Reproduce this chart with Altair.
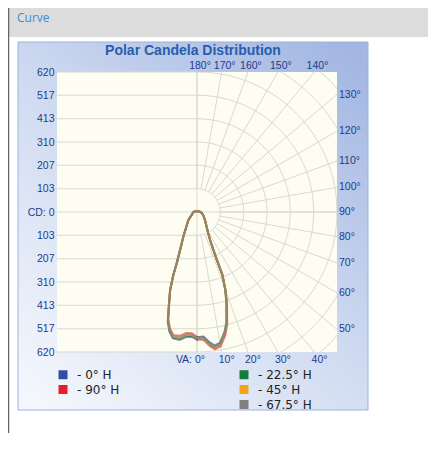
import altair as alt
import pandas as pd
import numpy as np

# ---------------- data ----------------
SERIES = ["0° H", "90° H", "22.5° H", "45° H", "67.5° H"]          # drawing order
LEGEND_ORDER = ["0° H", "90° H", " ", "22.5° H", "45° H", "67.5° H"]
LEGEND_COLORS = ["#2f4fa6", "#ec1c24", "rgba(0,0,0,0)", "#167a3c", "#f6a31b", "#808080"]

CD_TICKS = [620, 517, 413, 310, 207, 103]
EXTRA_RINGS = [723, 827]
SPOKES = list(range(0, 181, 10))
TOP_ANGLES = [180, 170, 160, 150, 140]
RIGHT_ANGLES = [130, 120, 110, 100, 90, 80, 70, 60, 50]
BOTTOM_ANGLES = [10, 20, 30, 40]

# left half (vertical angle, candela)
LEFT_GAMMA = [0, 2.5, 5, 7.7, 10.8, 13, 15, 17, 19, 20.6, 21.6, 24, 29, 38, 47, 60, 80, 95, 120, 180]
LEFT_CD = {
    "0° H":    [566, 553, 556, 572, 570, 544, 502, 426, 368, 298, 244, 184, 125, 73, 52, 28, 18, 13, 6, 3],
    "22.5° H": [562, 549, 551, 567, 566, 540, 498, 424, 366, 298, 244, 184, 125, 73, 52, 28, 18, 13, 6, 3],
    "45° H":   [559, 545, 547, 563, 562, 537, 495, 422, 365, 298, 244, 184, 125, 73, 52, 28, 18, 13, 6, 3],
    "67.5° H": [557, 543, 545, 561, 560, 535, 494, 421, 365, 298, 244, 184, 125, 73, 52, 28, 18, 13, 6, 3],
    "90° H":   [553, 537, 538, 553, 556, 531, 491, 419, 363, 298, 244, 184, 125, 73, 52, 28, 18, 13, 6, 3],
}
# right half
RIGHT_GAMMA = [0, 3, 5.5, 7.5, 10, 13, 15, 18, 20, 22, 22.5, 23.3, 25, 28, 33, 45, 60, 80, 95, 120, 180]
RIGHT_CD = {
    "0° H":    [554, 552, 579, 596, 587, 543, 503, 420, 364, 300, 232, 183, 137, 105, 78, 50, 33, 21, 13, 6, 3],
    "22.5° H": [557, 557, 585, 602, 592, 548, 507, 423, 366, 300, 232, 183, 137, 105, 78, 50, 33, 21, 13, 6, 3],
    "45° H":   [559, 561, 589, 606, 596, 551, 510, 425, 368, 300, 232, 183, 137, 105, 78, 50, 33, 21, 13, 6, 3],
    "67.5° H": [560, 562, 590, 607, 597, 553, 511, 426, 368, 300, 232, 183, 137, 105, 78, 50, 33, 21, 13, 6, 3],
    "90° H":   [564, 568, 597, 614, 604, 559, 517, 431, 372, 302, 232, 183, 137, 105, 78, 50, 33, 21, 13, 6, 3],
}

# ---------------- tables ----------------
def series_df(s):
    rows = []
    left = list(zip(LEFT_GAMMA, LEFT_CD[s]))[::-1]
    for i, (g, v) in enumerate(left):
        rows.append(dict(series=s, order=i, gamma=g, cd=v, side=-1))
    n = len(left)
    for j, (g, v) in enumerate(zip(RIGHT_GAMMA, RIGHT_CD[s])):
        rows.append(dict(series=s, order=n + j, gamma=g, cd=v, side=1))
    return pd.DataFrame(rows)

tick_vals = CD_TICKS + [0] + [-t for t in CD_TICKS]
hgrid_df = pd.DataFrame({"v": [t for t in CD_TICKS] + [-t for t in CD_TICKS]})
hgrid_df["x1"] = -CD_TICKS[0]
hgrid_df["x2"] = 0

cross_df = pd.DataFrame({"x1": [0, -CD_TICKS[0]], "x2": [0, CD_TICKS[0]],
                         "y1": [-CD_TICKS[0], 0], "y2": [CD_TICKS[0], 0]})

arc_rows = []
for r in CD_TICKS + EXTRA_RINGS:
    for a in range(0, 181, 2):
        arc_rows.append(dict(r=r, a=a, x=r * np.sin(np.radians(a)), y=-r * np.cos(np.radians(a))))
arc_df = pd.DataFrame(arc_rows)

spoke_df = pd.DataFrame({"g": SPOKES})
spoke_df["x1"] = CD_TICKS[-1] * np.sin(np.radians(spoke_df["g"]))
spoke_df["y1"] = -CD_TICKS[-1] * np.cos(np.radians(spoke_df["g"]))
spoke_df["x2"] = 1400 * np.sin(np.radians(spoke_df["g"]))
spoke_df["y2"] = -1400 * np.cos(np.radians(spoke_df["g"]))

R = CD_TICKS[0]
top_df = pd.DataFrame({"a": TOP_ANGLES})
top_df["label"] = top_df["a"].astype(str) + "°"
right_df = pd.DataFrame({"a": RIGHT_ANGLES})
right_df["label"] = right_df["a"].astype(str) + "°"
bot_df = pd.DataFrame({"a": BOTTOM_ANGLES})
bot_df["label"] = bot_df["a"].astype(str) + "°"
va_df = pd.DataFrame({"a": [0], "label": ["VA: 0°"]})

one = pd.DataFrame({"k": [0]})

LBL = "#1d3b8e"
GRID = "#d9d9d0"
FONT = "Liberation Sans"

XS = alt.Scale(domain=[-R, R], nice=False, zero=False)
YS = alt.Scale(domain=[-R, R], nice=False, zero=False)
YAX = alt.Axis(values=tick_vals, title=None, domain=False, ticks=False, grid=False,
               labelExpr="datum.value == 0 ? 'CD: 0' : format(abs(datum.value), 'd')",
               labelFont=FONT, labelFontSize=10.5, labelColor=LBL, labelPadding=3,
               labelFlush=False, labelOverlap=False, labelBound=False, zindex=2)

def XE(f):
    return alt.X(f, scale=XS, axis=None)

def YE(f):
    return alt.Y(f, scale=YS, axis=YAX)

# ---------------- background ----------------
header = alt.Chart(one).mark_rect(color="#dcdcdd").encode(
    x=alt.value(-49), x2=alt.value(371), y=alt.value(-64), y2=alt.value(-35))
border = alt.Chart(one).mark_rule(color="#666666", strokeWidth=1.5).encode(
    x=alt.value(-48.5), y=alt.value(-64), y2=alt.value(361))
curve_txt = alt.Chart(one).mark_text(text="Curve", align="left", baseline="middle",
                                     font="Open Sans", fontSize=12, color="#3a8dd6").encode(
    x=alt.value(-40), y=alt.value(-54))
grad = alt.Gradient(gradient="linear",
                    stops=[alt.GradientStop(offset=0, color="#f3f6fc"),
                           alt.GradientStop(offset=0.5, color="#d0dbf1"),
                           alt.GradientStop(offset=1, color="#a3b7e2")],
                    x1=0.1, y1=1, x2=0.9, y2=0)
panel = alt.Chart(one).mark_rect(fill=grad, stroke="#9bb3df", strokeWidth=1).encode(
    x=alt.value(-39), x2=alt.value(311), y=alt.value(-30), y2=alt.value(338))
plotbg = alt.Chart(one).mark_rect(color="#fdfdf1").encode(
    x=alt.value(0), x2=alt.value(280), y=alt.value(0), y2=alt.value(280))
title = alt.Chart(one).mark_text(text="Polar Candela Distribution", align="center", baseline="middle",
                                 font="Liberation Sans", fontSize=14, fontWeight="bold",
                                 color="#2a5dab").encode(x=alt.value(136), y=alt.value(-21))

# ---------------- grid ----------------
hgrid = alt.Chart(hgrid_df).mark_rule(color=GRID, strokeWidth=1).encode(
    x=XE("x1:Q"), x2="x2:Q", y=YE("v:Q"))
cross = alt.Chart(cross_df).mark_rule(color=GRID, strokeWidth=1).encode(
    x=XE("x1:Q"), x2="x2:Q", y=YE("y1:Q"), y2="y2:Q")
arcs = alt.Chart(arc_df).mark_line(color=GRID, strokeWidth=1, clip=True).encode(
    x=XE("x:Q"), y=YE("y:Q"), detail="r:N", order="a:Q")
spokes = alt.Chart(spoke_df).mark_rule(color=GRID, strokeWidth=1, clip=True).encode(
    x=XE("x1:Q"), x2="x2:Q", y=YE("y1:Q"), y2="y2:Q")

# ---------------- curves ----------------
CSCALE = alt.Scale(domain=LEGEND_ORDER, range=LEGEND_COLORS)
LEG = alt.Legend(orient="none", legendX=0, legendY=297, columns=2,
                 columnPadding=118, rowPadding=2, padding=0, clipHeight=11,
                 symbolType="square", symbolSize=16, symbolStrokeWidth=5,
                 symbolOpacity=1,
                 labelFont="DejaVu Sans", labelFontSize=12, labelColor="#222222",
                 labelOffset=8, title=None,
                 labelExpr="datum.value == ' ' ? '' : '- ' + datum.value")

curve_layers = []
for s in SERIES:
    curve_layers.append(
        alt.Chart(series_df(s)).transform_calculate(
            px="datum.side * datum.cd * sin(datum.gamma * PI / 180)",
            py="-datum.cd * cos(datum.gamma * PI / 180)",
        ).mark_line(strokeWidth=2, opacity=0.6).encode(
            x=XE("px:Q"), y=YE("py:Q"), order="order:Q",
            color=alt.Color("series:N", scale=CSCALE, legend=LEG))
    )

# ---------------- angle labels ----------------
top_lbl = alt.Chart(top_df).transform_calculate(
    px=f"-{R} * tan(datum.a * PI / 180)", py=f"{R}").mark_text(
    align="center", baseline="middle", dy=-6, dx=3, font=FONT, fontSize=10.5, color=LBL).encode(
    x=XE("px:Q"), y=YE("py:Q"), text="label:N")
right_lbl = alt.Chart(right_df).transform_calculate(
    px=f"{R}", py=f"-{R} * cos(datum.a * PI / 180) / sin(datum.a * PI / 180)").mark_text(
    align="left", baseline="middle", dx=2, font=FONT, fontSize=10.5, color=LBL).encode(
    x=XE("px:Q"), y=YE("py:Q"), text="label:N")
bot_lbl = alt.Chart(bot_df).transform_calculate(
    px=f"{R} * tan(datum.a * PI / 180)", py=f"-{R}").mark_text(
    align="center", baseline="middle", dy=8, dx=5, font=FONT, fontSize=10.5, color=LBL).encode(
    x=XE("px:Q"), y=YE("py:Q"), text="label:N")
va_lbl = alt.Chart(va_df).transform_calculate(
    px="0", py=f"-{R}").mark_text(
    align="right", baseline="middle", dy=8, dx=8, font=FONT, fontSize=10.5, color=LBL).encode(
    x=XE("px:Q"), y=YE("py:Q"), text="label:N")

chart = alt.layer(
    header, border, curve_txt, panel, plotbg, title,
    hgrid, cross, arcs, spokes, *curve_layers,
    top_lbl, right_lbl, bot_lbl, va_lbl,
).properties(
    width=280, height=280,
    autosize=alt.AutoSizeParams(type="none"),
    padding={"left": 49, "top": 64, "right": 91, "bottom": 81},
    background="white",
).configure_view(stroke=None)

chart.save("out.html", embed_options={"renderer": "svg", "actions": False})
